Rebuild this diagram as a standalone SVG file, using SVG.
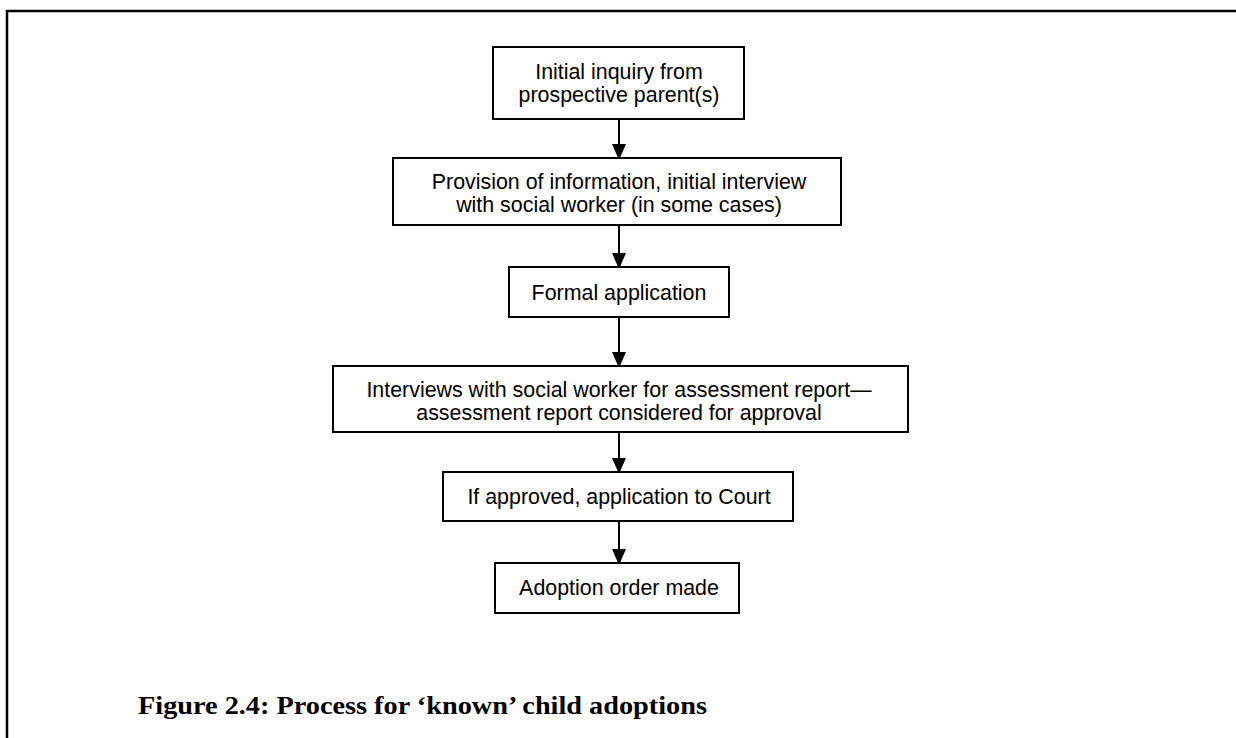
<svg xmlns="http://www.w3.org/2000/svg" width="1236" height="738" viewBox="0 0 1236 738">
<style>
.box{fill:#fff;stroke:#000;stroke-width:2}
.t{font-family:"Liberation Sans",Arial,sans-serif;font-size:21.4px;fill:#000;text-anchor:middle}
.cap{font-family:"Liberation Serif","Times New Roman",serif;font-weight:bold;font-size:25px;fill:#000}
.conn{stroke:#000;stroke-width:2;fill:none}
</style>
<defs>
<marker id="ah" markerUnits="userSpaceOnUse" markerWidth="16" markerHeight="18" refX="14" refY="7" orient="auto">
<path d="M0,0 L16,7 L0,14 Z" fill="#000"/>
</marker>
</defs>
<rect width="1236" height="738" fill="#fff"/>
<g id="frame">
<path d="M7,738 L7,11 L1236,11" fill="none" stroke="#000" stroke-width="2.5"/>
</g>
<g id="connectors">
<line class="conn" x1="619" y1="119" x2="619" y2="158" marker-end="url(#ah)"/>
<line class="conn" x1="619" y1="225" x2="619" y2="267" marker-end="url(#ah)"/>
<line class="conn" x1="619" y1="317" x2="619" y2="366" marker-end="url(#ah)"/>
<line class="conn" x1="619" y1="432" x2="619" y2="472" marker-end="url(#ah)"/>
<line class="conn" x1="619" y1="521" x2="619" y2="563" marker-end="url(#ah)"/>
</g>
<g id="n1">
<rect class="box" x="493" y="47" width="251" height="72"/>
<text class="t" x="619" y="78.5">Initial inquiry from</text>
<text class="t" x="619" y="101.5">prospective parent(s)</text>
</g>
<g id="n2">
<rect class="box" x="393" y="158" width="448" height="67"/>
<text class="t" x="619" y="188.5">Provision of information, initial interview</text>
<text class="t" x="619" y="211.5">with social worker (in some cases)</text>
</g>
<g id="n3">
<rect class="box" x="509" y="267" width="220" height="50"/>
<text class="t" x="619" y="300">Formal application</text>
</g>
<g id="n4">
<rect class="box" x="333" y="366" width="575" height="66"/>
<text class="t" x="619" y="396.5">Interviews with social worker for assessment report—</text>
<text class="t" x="619" y="419.5">assessment report considered for approval</text>
</g>
<g id="n5">
<rect class="box" x="443" y="472" width="350" height="49"/>
<text class="t" x="619" y="504">If approved, application to Court</text>
</g>
<g id="n6">
<rect class="box" x="495" y="563" width="244" height="50"/>
<text class="t" x="619" y="595">Adoption order made</text>
</g>
<text class="cap" x="138" y="714" textLength="569" lengthAdjust="spacingAndGlyphs">Figure 2.4: Process for ‘known’ child adoptions</text>
</svg>
